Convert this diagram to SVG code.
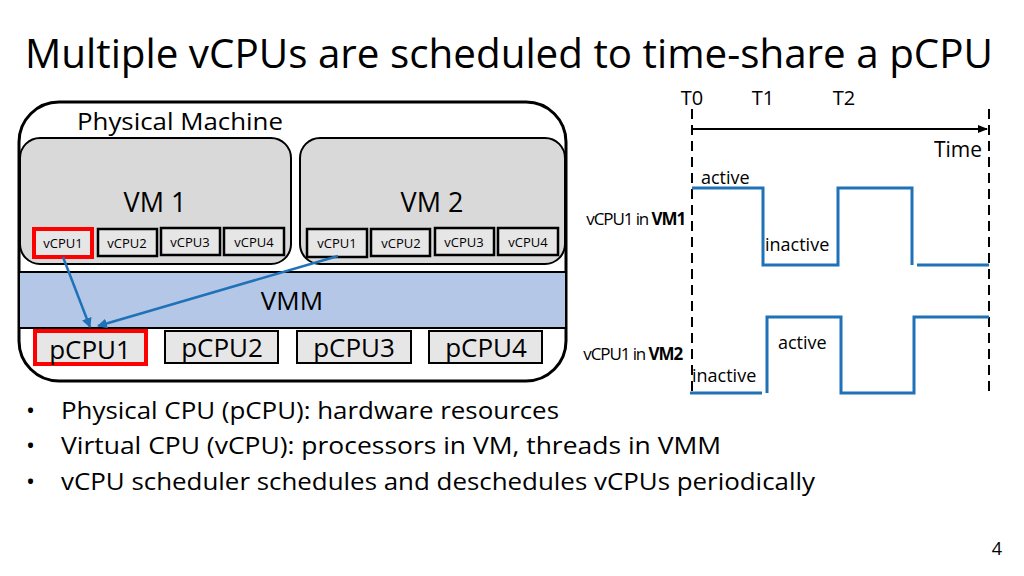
<svg xmlns="http://www.w3.org/2000/svg" width="1024" height="576" viewBox="0 0 1024 576">
<defs>
<style>
text{font-family:"Open Sans","Liberation Sans",sans-serif;fill:#000}
.vm{fill:#d9d9d9;stroke:#000;stroke-width:2}
.vc{fill:#e6e6e6;stroke:#000;stroke-width:2.5}
.pc{fill:#e6e6e6;stroke:#000;stroke-width:2}
.red{stroke:#ff0000;stroke-width:4}
.wave{fill:none;stroke:#1f72b8;stroke-width:3}
.dash{stroke:#000;stroke-width:2;stroke-dasharray:10,6}
.blue{stroke:#1f72b8;stroke-width:2.5;fill:none}
.s12{font-size:13px}
.s20{font-size:20px}
.lbl{font-size:18px}
</style>
<marker id="ab" viewBox="0 0 10 10" refX="9" refY="5" markerWidth="4" markerHeight="4" orient="auto"><path d="M0,0L10,5L0,10z" fill="#1f72b8"/></marker>
<marker id="ak" viewBox="0 0 10 10" refX="9" refY="5" markerWidth="5" markerHeight="5" orient="auto"><path d="M0,1L10,5L0,9z" fill="#000"/></marker>
</defs>
<rect width="1024" height="576" fill="#fff"/>
<text x="25" y="68" font-size="40" textLength="968" lengthAdjust="spacingAndGlyphs">Multiple vCPUs are scheduled to time-share a pCPU</text>

<g id="physical-machine">
<rect x="19" y="102" width="547" height="279" rx="40" fill="#fff" stroke="#000" stroke-width="3"/>
<text x="77" y="130" font-size="24" textLength="206" lengthAdjust="spacingAndGlyphs">Physical Machine</text>
</g>
<g id="vm1">
<rect class="vm" x="20" y="138" width="271" height="126" rx="20"/>
<text x="155" y="212" font-size="27" text-anchor="middle">VM 1</text>
</g>
<g id="vm2">
<rect class="vm" x="300" y="138" width="265" height="126" rx="20"/>
<text x="432" y="212" font-size="27" text-anchor="middle">VM 2</text>
</g>
<g id="vm1-vcpus">
<rect class="vc red" x="34" y="229" width="58" height="28"/>
<text class="s12" x="63" y="248" text-anchor="middle">vCPU1</text>
<rect class="vc" x="98" y="229" width="59" height="27"/>
<text class="s12" x="127" y="248" text-anchor="middle">vCPU2</text>
<rect class="vc" x="161" y="228" width="59" height="27"/>
<text class="s12" x="190" y="247" text-anchor="middle">vCPU3</text>
<rect class="vc" x="224" y="228" width="60" height="27"/>
<text class="s12" x="254" y="247" text-anchor="middle">vCPU4</text>
</g>
<g id="vm2-vcpus">
<rect class="vc" x="307" y="229" width="60" height="28" stroke-width="4"/>
<text class="s12" x="337" y="248" text-anchor="middle">vCPU1</text>
<rect class="vc" x="371" y="229" width="59" height="27"/>
<text class="s12" x="401" y="248" text-anchor="middle">vCPU2</text>
<rect class="vc" x="435" y="228" width="59" height="27"/>
<text class="s12" x="464" y="247" text-anchor="middle">vCPU3</text>
<rect class="vc" x="498" y="228" width="60" height="27"/>
<text class="s12" x="528" y="247" text-anchor="middle">vCPU4</text>
</g>
<g id="vmm">
<rect x="19" y="272" width="547" height="56" fill="#b4c7e7" stroke="#000" stroke-width="2"/>
<text x="292" y="310" font-size="26" text-anchor="middle">VMM</text>
</g>
<g id="pcpus">
<rect class="pc red" x="35" y="331" width="111" height="33"/>
<text x="90" y="359" font-size="26" text-anchor="middle">pCPU1</text>
<rect class="pc" x="165" y="331" width="113" height="32"/>
<text x="222" y="357" font-size="26" text-anchor="middle">pCPU2</text>
<rect class="pc" x="297" y="331" width="114" height="32"/>
<text x="354" y="357" font-size="26" text-anchor="middle">pCPU3</text>
<rect class="pc" x="429" y="331" width="113" height="32"/>
<text x="486" y="357" font-size="26" text-anchor="middle">pCPU4</text>
</g>
<g id="connectors">
<line class="blue" x1="63" y1="257" x2="90" y2="327" marker-end="url(#ab)"/>
<line class="blue" x1="338" y1="256" x2="98" y2="326" marker-end="url(#ab)"/>
</g>

<g id="timeline">
<text class="s20" x="692" y="105" text-anchor="middle">T0</text>
<text class="s20" x="763" y="105" text-anchor="middle">T1</text>
<text class="s20" x="844" y="105" text-anchor="middle">T2</text>
<line class="dash" x1="692" y1="109" x2="692" y2="397"/>
<line class="dash" x1="989" y1="109" x2="989" y2="397"/>
<line x1="692" y1="129" x2="987" y2="129" stroke="#000" stroke-width="2" marker-end="url(#ak)"/>
<text x="982" y="157" font-size="21" text-anchor="end">Time</text>
</g>
<g id="wave-vm1">
<text x="685" y="225" font-size="17" text-anchor="end" letter-spacing="-1.1">vCPU1 in <tspan font-weight="bold">VM1</tspan></text>
<text class="lbl" x="701" y="184">active</text>
<text class="lbl" x="765" y="251">inactive</text>
<polyline class="wave" points="692,188 763,188 763,265 838,265 838,188 912,188 912,265"/>
<line class="wave" x1="917" y1="265" x2="989" y2="265"/>
</g>
<g id="wave-vm2">
<text x="682" y="360" font-size="17" text-anchor="end" letter-spacing="-1.1">vCPU1 in <tspan font-weight="bold">VM2</tspan></text>
<text class="lbl" x="778" y="349">active</text>
<text class="lbl" x="692" y="382">inactive</text>
<line class="wave" x1="690" y1="393" x2="762" y2="393"/>
<polyline class="wave" points="767,393 767,317 841,317 841,393 914,393 914,317 989,317"/>
</g>

<g id="bullets">
<text x="26" y="419" font-size="24">•</text>
<text x="61" y="419" font-size="24" textLength="498" lengthAdjust="spacingAndGlyphs">Physical CPU (pCPU): hardware resources</text>
<text x="26" y="454" font-size="24">•</text>
<text x="61" y="454" font-size="24" textLength="660" lengthAdjust="spacingAndGlyphs">Virtual CPU (vCPU): processors in VM, threads in VMM</text>
<text x="26" y="490" font-size="24">•</text>
<text x="61" y="490" font-size="24" textLength="754" lengthAdjust="spacingAndGlyphs">vCPU scheduler schedules and deschedules vCPUs periodically</text>
</g>
<text x="1002" y="555" font-size="18" text-anchor="end">4</text>
</svg>
